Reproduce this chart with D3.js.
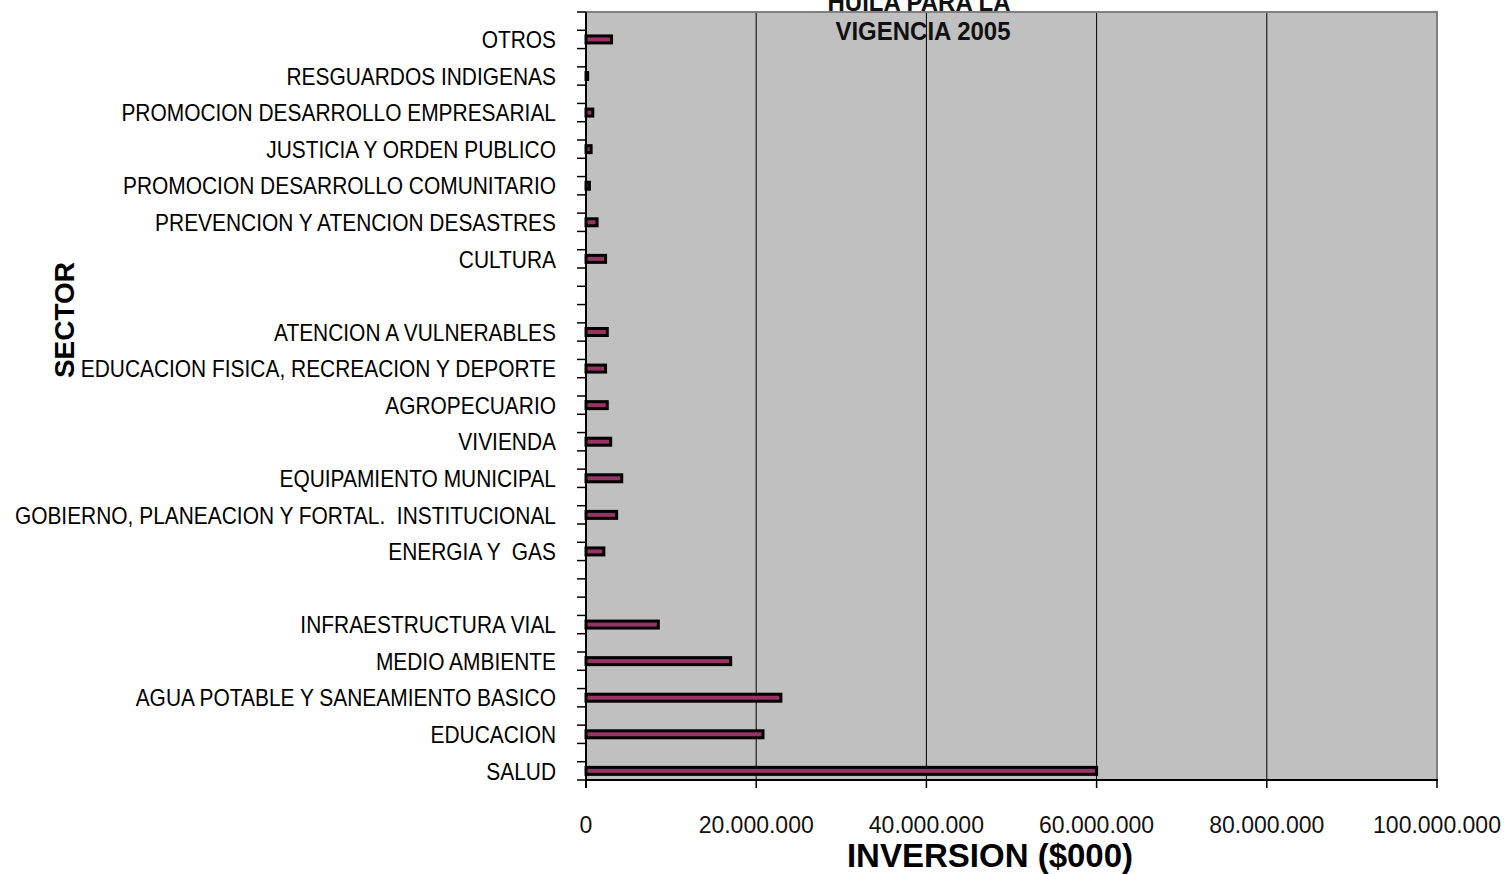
<!DOCTYPE html>
<html>
<head>
<meta charset="utf-8">
<script src="https://cdn.jsdelivr.net/npm/d3@7"></script>
<style>
  body { margin: 0; background: #fff; }
  text { font-family: "Liberation Sans", Arial, sans-serif; }
  .ylabel { white-space: pre; }
</style>
</head>
<body>
<div id="chart"></div>
<script>
// datos: sectores de arriba hacia abajo ("" = fila vacia)
var sectores = [
  "OTROS", "RESGUARDOS INDIGENAS", "PROMOCION DESARROLLO EMPRESARIAL",
  "JUSTICIA Y ORDEN PUBLICO", "PROMOCION DESARROLLO COMUNITARIO",
  "PREVENCION Y ATENCION DESASTRES", "CULTURA", "",
  "ATENCION A VULNERABLES", "EDUCACION FISICA, RECREACION Y DEPORTE",
  "AGROPECUARIO", "VIVIENDA", "EQUIPAMIENTO MUNICIPAL",
  "GOBIERNO, PLANEACION Y FORTAL.  INSTITUCIONAL", "ENERGIA Y  GAS", "",
  "INFRAESTRUCTURA VIAL", "MEDIO AMBIENTE", "AGUA POTABLE Y SANEAMIENTO BASICO",
  "EDUCACION", "SALUD"
];
var inversion = [
  3000000, 200000, 800000, 600000, 400000, 1300000, 2300000, null,
  2500000, 2300000, 2500000, 2900000, 4200000, 3600000, 2100000, null,
  8500000, 17000000, 22900000, 20800000, 60000000
];
var xTicks = [0, 20000000, 40000000, 60000000, 80000000, 100000000];
var tituloLineas = ["HUILA PARA LA", "VIGENCIA 2005"];

var width = 1505, height = 874,
    margin = {top: 12, right: 68, bottom: 94, left: 586};

var svg = d3.select("#chart").append("svg")
  .attr("width", width)
  .attr("height", height);

var x = d3.scaleLinear()
  .domain([0, 100000000])
  .range([margin.left, width - margin.right]);

var y = d3.scaleBand()
  .domain(d3.range(sectores.length))
  .range([margin.top, height - margin.bottom])
  .padding(0);

var step = y.step();
var barY = function(i) { return y(i) + step * 0.75; };

// fondo del area de trazado
svg.append("rect")
  .attr("x", x(0)).attr("y", margin.top)
  .attr("width", x(100000000) - x(0))
  .attr("height", height - margin.bottom - margin.top)
  .style("fill", "#c0c0c0");

// titulo (detras de las lineas de division)
svg.selectAll(".titulo")
  .data(tituloLineas)
  .enter().append("text")
  .attr("class", "titulo")
  .attr("transform", function(d, i) {
    return "translate(" + (i === 0 ? 919 : 923) + "," + (11 + i * 29) + ") scale(1,1.1)";
  })
  .attr("text-anchor", "middle")
  .style("font-size", "24px")
  .style("font-weight", "bold")
  .style("fill", "#111")
  .text(function(d) { return d; });

// lineas de division verticales
svg.selectAll(".grid")
  .data(xTicks.slice(1, -1))
  .enter().append("line")
  .attr("x1", function(d) { return x(d); })
  .attr("x2", function(d) { return x(d); })
  .attr("y1", margin.top)
  .attr("y2", height - margin.bottom)
  .style("stroke", "#000")
  .style("stroke-width", 1);

// borde superior y derecho
svg.append("path")
  .attr("d", "M" + x(0) + "," + margin.top + "H" + x(100000000) + "V" + (height - margin.bottom))
  .style("fill", "none")
  .style("stroke", "#808080")
  .style("stroke-width", 2);

// barras
svg.selectAll(".bar")
  .data(inversion.map(function(v, i) { return {v: v, i: i}; })
    .filter(function(d) { return d.v !== null; }))
  .enter().append("rect")
  .attr("class", "bar")
  .attr("x", x(0))
  .attr("y", function(d) { return barY(d.i) - 3.5; })
  .attr("width", function(d) { return x(d.v) - x(0); })
  .attr("height", 7)
  .style("fill", "#993366")
  .style("stroke", "#000")
  .style("stroke-width", 3);

// eje Y: linea y marcas (cada media banda)
var yTickPos = [];
sectores.forEach(function(s, i) { yTickPos.push(y(i), y(i) + step / 2); });
yTickPos.push(height - margin.bottom);

svg.append("line")
  .attr("x1", x(0)).attr("x2", x(0))
  .attr("y1", margin.top).attr("y2", height - margin.bottom + 8)
  .style("stroke", "#000").style("stroke-width", 2);

svg.selectAll(".ytick")
  .data(yTickPos)
  .enter().append("line")
  .attr("x1", x(0) - 9).attr("x2", x(0))
  .attr("y1", function(d) { return d; })
  .attr("y2", function(d) { return d; })
  .style("stroke", "#000").style("stroke-width", 1.5);

// etiquetas de sectores (fuente angosta)
svg.selectAll(".ylabel")
  .data(sectores)
  .enter().append("text")
  .attr("class", "ylabel")
  .attr("transform", function(d, i) { return "translate(556," + barY(i) + ") scale(0.91,1.05)"; })
  .attr("text-anchor", "end")
  .attr("dy", "0.36em")
  .style("font-size", "23px")
  .style("fill", "#000")
  .text(function(d) { return d; });

// eje X
var fmt = function(v) { return d3.format(",")(v).replace(/,/g, "."); };

svg.append("line")
  .attr("x1", x(0) - 1).attr("x2", x(100000000) + 1)
  .attr("y1", height - margin.bottom).attr("y2", height - margin.bottom)
  .style("stroke", "#000").style("stroke-width", 2);

svg.selectAll(".xtick")
  .data(xTicks)
  .enter().append("line")
  .attr("x1", function(d) { return x(d); })
  .attr("x2", function(d) { return x(d); })
  .attr("y1", height - margin.bottom)
  .attr("y2", height - margin.bottom + 8)
  .style("stroke", "#000").style("stroke-width", 1.5);

svg.selectAll(".xlabel")
  .data(xTicks)
  .enter().append("text")
  .attr("class", "xlabel")
  .attr("x", function(d) { return x(d); })
  .attr("y", 833)
  .attr("text-anchor", "middle")
  .style("font-size", "23px")
  .style("fill", "#111")
  .text(fmt);

// titulos de ejes
svg.append("text")
  .attr("x", 990).attr("y", 867)
  .attr("text-anchor", "middle")
  .style("font-size", "33px")
  .style("font-weight", "bold")
  .style("fill", "#000")
  .text("INVERSION ($000)");

svg.append("text")
  .attr("transform", "translate(74,320) rotate(-90)")
  .attr("text-anchor", "middle")
  .style("font-size", "28px")
  .style("font-weight", "bold")
  .style("fill", "#000")
  .text("SECTOR");
</script>
</body>
</html>
